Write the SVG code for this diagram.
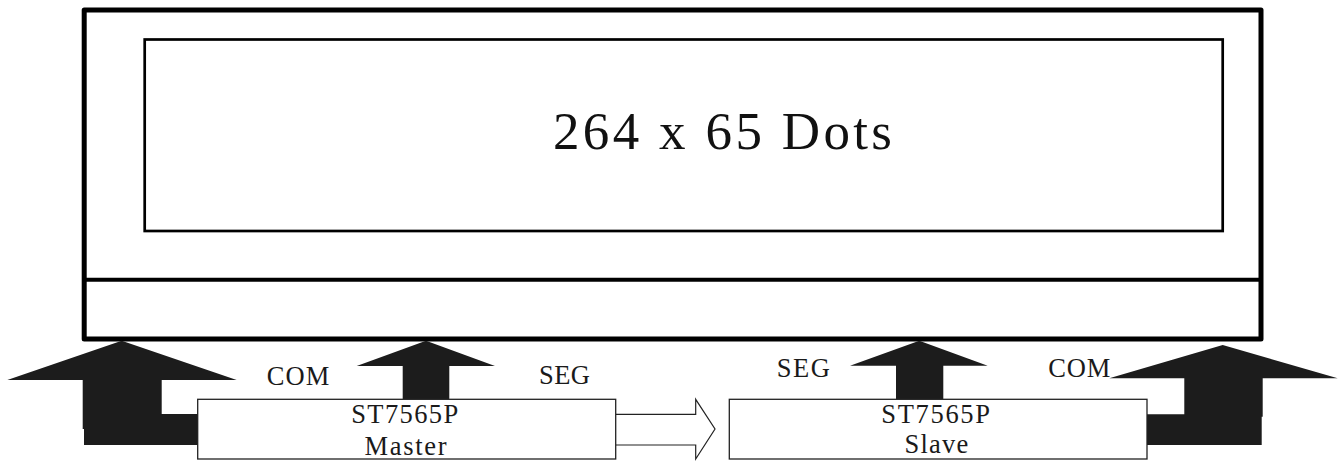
<svg xmlns="http://www.w3.org/2000/svg" width="1341" height="463" viewBox="0 0 1341 463">
<style>
.lbl{font-family:"Liberation Serif","Times New Roman",serif;font-size:26.5px;fill:#1a1a1a}
.big{font-family:"Liberation Serif","Times New Roman",serif;font-size:53px;fill:#111}
.chip{fill:#fff;stroke:#222;stroke-width:1.3}
.bus{fill:#1c1c1c;stroke:none}
</style>
<rect width="1341" height="463" fill="#fff"/>
<g id="display">
<rect x="84.2" y="10" width="1176.8" height="329" fill="#fff" stroke="#000" stroke-width="5" stroke-linejoin="round"/>
<line x1="84.2" y1="279.7" x2="1261" y2="279.7" stroke="#000" stroke-width="4"/>
<rect x="144.7" y="39.5" width="1078" height="191.5" fill="none" stroke="#000" stroke-width="2.7"/>
<text class="big" x="553" y="149" textLength="339" lengthAdjust="spacing">264 x 65 Dots</text>
</g>
<g id="connectors">
<path class="bus" d="M121.7,340.7 L236.7,380 L161.7,380 L161.7,414 L198,414 L198,445 L84,445 L84,429 L82.7,429 L82.7,380 L7.3,380 Z"/>
<path class="bus" d="M426,340.7 L495,366 L449.3,366 L449.3,399.5 L402.7,399.5 L402.7,366 L356.7,366 Z"/>
<path class="bus" d="M919.3,340.7 L987.7,365.7 L943.3,365.7 L943.3,399.5 L896,399.5 L896,365.7 L850,365.7 Z"/>
<path class="bus" d="M1222.7,345 L1337.7,378.3 L1262.7,378.3 L1262.7,416.7 L1261.7,416.7 L1261.7,445 L1147,445 L1147,414.3 L1184.3,414.3 L1184.3,378.3 L1109.3,378.3 Z"/>
<path d="M615.7,414.3 L695.7,414.3 L695.7,399.3 L715,429 L695.7,459 L695.7,445 L615.7,445" fill="#fff" stroke="#222" stroke-width="1.2" stroke-linejoin="miter"/>
<text class="lbl" x="266.7" y="385" textLength="62.6" lengthAdjust="spacing">COM</text>
<text class="lbl" x="539" y="384.3" textLength="51" lengthAdjust="spacing">SEG</text>
<text class="lbl" x="776.7" y="377.3" textLength="53.3" lengthAdjust="spacing">SEG</text>
<text class="lbl" x="1048.3" y="376.7" textLength="62" lengthAdjust="spacing">COM</text>
</g>
<g id="master">
<rect class="chip" x="197.7" y="399.3" width="418" height="59.7"/>
<text class="lbl" x="351.2" y="423.3" textLength="107" lengthAdjust="spacing">ST7565P</text>
<text class="lbl" x="364.5" y="455" textLength="82" lengthAdjust="spacing">Master</text>
</g>
<g id="slave">
<rect class="chip" x="729.3" y="399.3" width="417.7" height="59.7"/>
<text class="lbl" x="881.2" y="423.3" textLength="108.8" lengthAdjust="spacing">ST7565P</text>
<text class="lbl" x="904.5" y="453.3" textLength="63.8" lengthAdjust="spacing">Slave</text>
</g>
</svg>
